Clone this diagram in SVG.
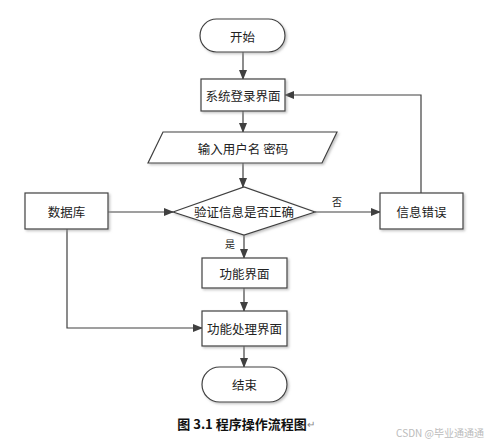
<svg xmlns="http://www.w3.org/2000/svg" width="485" height="443" viewBox="0 0 485 443">
<defs>
<marker id="ah" markerWidth="10" markerHeight="8" refX="9" refY="4" orient="auto" markerUnits="userSpaceOnUse">
<path d="M0,0 L10,4 L0,8 Z" fill="#404040"/>
</marker>
<filter id="sh" x="-10%" y="-10%" width="130%" height="140%">
<feDropShadow dx="1.5" dy="1.5" stdDeviation="0.8" flood-color="#999" flood-opacity="0.6"/>
</filter>
</defs>
<style>
.s{fill:#fff;stroke:#404040;stroke-width:1.2;filter:url(#sh)}
.t{font-family:"Noto Sans CJK SC","Noto Sans",sans-serif;font-size:12.5px;fill:#222;text-anchor:middle;dominant-baseline:central}
.l{font-family:"Noto Sans CJK SC","Noto Sans",sans-serif;font-size:10px;fill:#222;text-anchor:middle;dominant-baseline:central}
.c{fill:none;stroke:#404040;stroke-width:1.2;marker-end:url(#ah)}
</style>
<rect width="485" height="443" fill="#fff"/>
<g id="connectors">
<path class="c" d="M243,52 V79"/>
<path class="c" d="M243,111 V132"/>
<path class="c" d="M243,163 V187"/>
<path class="c" d="M108,212 H173"/>
<path class="c" d="M315,212 H380"/>
<path class="c" d="M421,193 V95 H285"/>
<path class="c" d="M244,235 V258"/>
<path class="c" d="M244,288 V311"/>
<path class="c" d="M67,229 V328 H202"/>
<path class="c" d="M244,346 V367"/>
<text class="l" x="337" y="201">否</text>
<text class="l" x="230" y="243">是</text>
</g>
<g id="start"><rect class="s" x="200" y="19" width="85" height="33" rx="16.5"/><text class="t" x="242.5" y="36">开始</text></g>
<g id="login"><rect class="s" x="201" y="79" width="84" height="32"/><text class="t" x="243" y="95">系统登录界面</text></g>
<g id="input"><polygon class="s" points="163,132 337,132 322,163 148,163"/><text class="t" x="243" y="148">输入用户名 密码</text></g>
<g id="verify"><polygon class="s" points="173,212 244,187 315,212 244,235"/><text class="t" x="244" y="211">验证信息是否正确</text></g>
<g id="db"><rect class="s" x="25" y="193" width="83" height="36"/><text class="t" x="66.5" y="211">数据库</text></g>
<g id="error"><rect class="s" x="380" y="193" width="83" height="36"/><text class="t" x="421.5" y="211">信息错误</text></g>
<g id="func"><rect class="s" x="202" y="258" width="85" height="30"/><text class="t" x="244.5" y="273">功能界面</text></g>
<g id="proc"><rect class="s" x="202" y="311" width="85" height="35"/><text class="t" x="244.5" y="328.5">功能处理界面</text></g>
<g id="end"><rect class="s" x="202" y="367" width="85" height="35" rx="17.5"/><text class="t" x="244.5" y="384.5">结束</text></g>
<text x="246" y="423" style="font-family:'Noto Sans CJK SC',sans-serif;font-size:13px;font-weight:bold;fill:#111;text-anchor:middle;dominant-baseline:central">图 3.1  程序操作流程图<tspan style="font-weight:normal;fill:#888;font-size:10px">↵</tspan></text>
<text x="484" y="432" style="font-family:'Noto Sans CJK SC',sans-serif;font-size:10px;fill:#bbb;text-anchor:end;dominant-baseline:central">CSDN @毕业通通通</text>
</svg>
